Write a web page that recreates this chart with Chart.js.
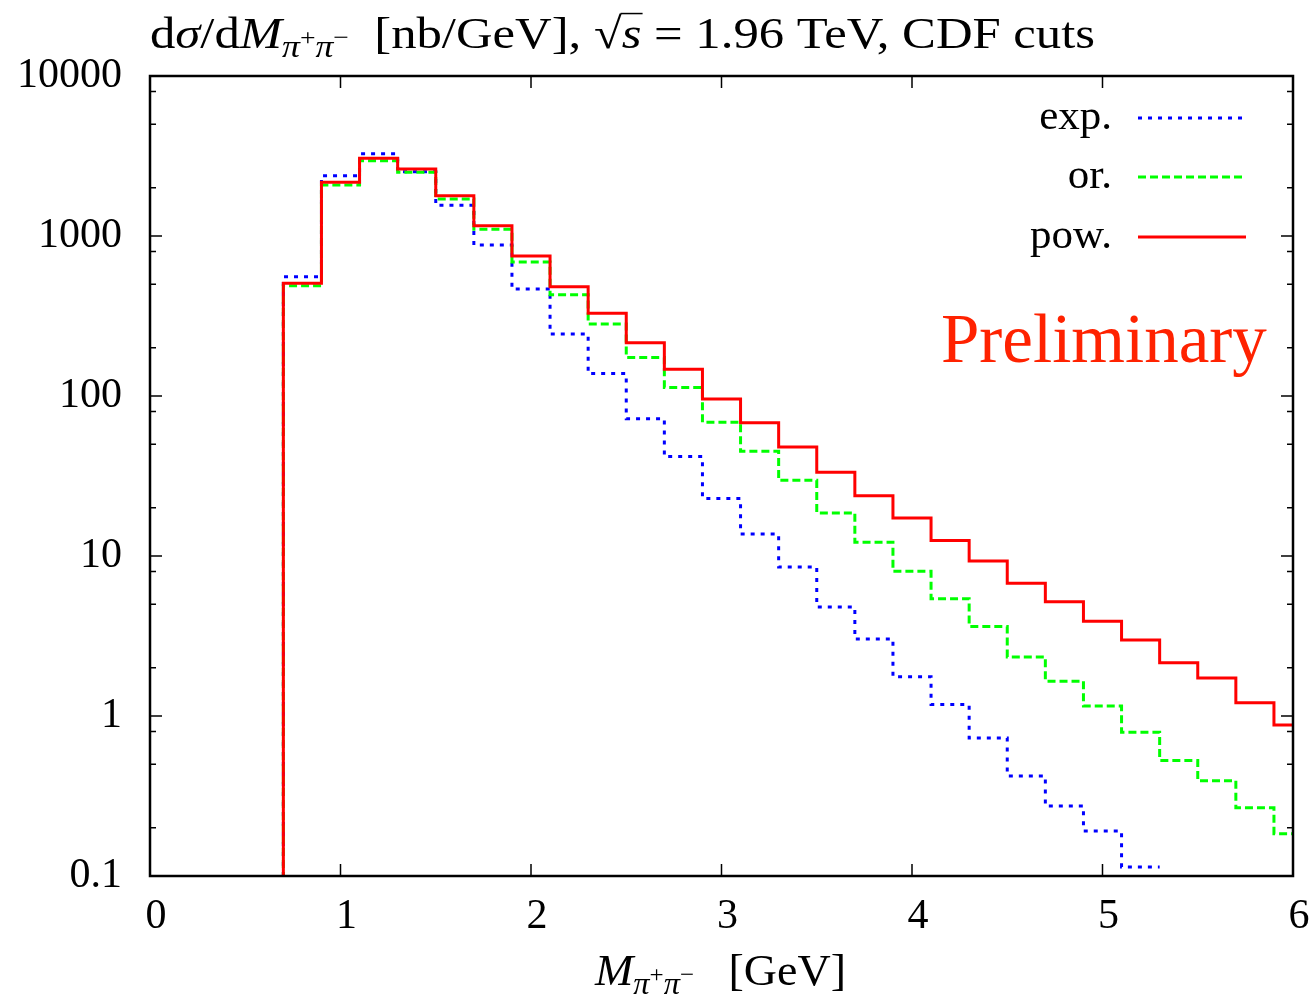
<!DOCTYPE html>
<html>
<head>
<meta charset="utf-8">
<script src="https://cdn.jsdelivr.net/npm/chart.js@4"></script>
<style>
    body { margin: 0; background: #fff; }
</style>
</head>
<body>
<canvas id="myChart" width="1313" height="996"></canvas>
<script>
// lower edges of the mass bins (GeV), every bin is 0.2 GeV wide
const binEdges = [
    0.7, 0.9, 1.1, 1.3, 1.5, 1.7, 1.9, 2.1, 2.3, 2.5, 2.7, 2.9, 3.1, 3.3,
    3.5, 3.7, 3.9, 4.1, 4.3, 4.5, 4.7, 4.9, 5.1, 5.3, 5.5, 5.7, 5.9
];
const binWidth = 0.2;

// dsigma/dM in nb/GeV
const expValues = [
    557, 2382, 3268, 2520, 1555, 879, 466, 244, 138, 72.1, 41.8, 22.9,
    13.7, 8.53, 4.80, 3.03, 1.76, 1.18, 0.729, 0.422, 0.274, 0.191, 0.114
];
const orValues = [
    489, 2083, 2956, 2500, 1703, 1101, 688, 430, 282, 174, 113, 68.5,
    45.1, 29.7, 18.6, 12.2, 8.02, 5.41, 3.63, 2.34, 1.65, 1.155, 0.791,
    0.528, 0.394, 0.267, 0.184
];
const powValues = [
    506, 2166, 3062, 2622, 1786, 1159, 750, 482, 329, 215, 147, 95.8,
    68.1, 48.0, 33.4, 23.8, 17.3, 12.5, 9.3, 6.75, 5.18, 3.91, 2.99,
    2.15, 1.73, 1.21, 0.879
];

const xTickValues = [0, 1, 2, 3, 4, 5, 6];
const yTickValues = [0.1, 1, 10, 100, 1000, 10000];
const minorMantissas = [2, 5, 8];

const serif = '"Liberation Serif", "DejaVu Serif", serif';

// histogram outline: start from below the axis, then one point per bin edge
function toSteps(values) {
    const pts = [{ x: binEdges[0], y: 0.01 }];
    values.forEach((v, i) => pts.push({ x: binEdges[i], y: v }));
    const last = values.length - 1;
    pts.push({ x: binEdges[last] + binWidth, y: values[last] });
    return pts;
}

// text with sub/superscripts: [text, italic, scale, dy, overline]
function richWidth(ctx, parts, size) {
    let w = 0;
    parts.forEach(p => {
        ctx.font = (p[1] ? 'italic ' : '') + Math.round(size * p[2]) + 'px ' + serif;
        w += ctx.measureText(p[0]).width;
    });
    return w;
}

function drawRich(ctx, x, y, parts, size) {
    let cx = x;
    parts.forEach(p => {
        ctx.font = (p[1] ? 'italic ' : '') + Math.round(size * p[2]) + 'px ' + serif;
        ctx.fillText(p[0], cx, y + p[3]);
        const w = ctx.measureText(p[0]).width;
        if (p[4]) {
            ctx.fillRect(cx - 1, y - size * 0.8, w + 2, 1.5);
        }
        cx += w;
    });
}

// draw rich text squeezed/stretched to a given width
function drawFitted(ctx, x, y, parts, size, width) {
    const w = richWidth(ctx, parts, size);
    ctx.save();
    ctx.translate(x, y);
    ctx.scale(width / w, 1);
    drawRich(ctx, 0, 0, parts, size);
    ctx.restore();
}

const titleParts = [
    ['d', 0, 1, 0], ['σ', 1, 1, 0], ['/d', 0, 1, 0], ['M', 1, 1, 0],
    ['π', 1, 0.7, 9], ['+', 0, 0.55, -3], ['π', 1, 0.7, 9], ['−', 0, 0.55, -3],
    ['  [nb/GeV], ', 0, 1, 0], ['√', 0, 1, 0], ['s', 1, 1, 0, true],
    [' = 1.96 TeV, CDF cuts', 0, 1, 0]
];
const xTitleParts = [
    ['M', 1, 1, 0], ['π', 1, 0.7, 9], ['+', 0, 0.55, -3], ['π', 1, 0.7, 9],
    ['−', 0, 0.55, -3], ['   [GeV]', 0, 1, 0]
];

const frame = {
    id: 'frame',
    afterDraw(chart) {
        const { ctx, chartArea: a } = chart;
        const x = chart.scales.x;
        const y = chart.scales.y;
        ctx.save();
        ctx.strokeStyle = '#000';
        ctx.lineWidth = 1.5;
        ctx.beginPath();
        xTickValues.forEach(v => {
            const px = x.getPixelForValue(v);
            ctx.moveTo(px, a.bottom); ctx.lineTo(px, a.bottom - 12);
            ctx.moveTo(px, a.top); ctx.lineTo(px, a.top + 12);
        });
        yTickValues.forEach((v, i) => {
            const py = y.getPixelForValue(v);
            ctx.moveTo(a.left, py); ctx.lineTo(a.left + 12, py);
            ctx.moveTo(a.right, py); ctx.lineTo(a.right - 12, py);
            if (i < yTickValues.length - 1) {
                minorMantissas.forEach(m => {
                    const pm = y.getPixelForValue(v * m);
                    ctx.moveTo(a.left, pm); ctx.lineTo(a.left + 6, pm);
                    ctx.moveTo(a.right, pm); ctx.lineTo(a.right - 6, pm);
                });
            }
        });
        ctx.stroke();
        ctx.lineWidth = 2.5;
        ctx.strokeRect(a.left, a.top, a.right - a.left, a.bottom - a.top);

        // titles
        ctx.fillStyle = '#000';
        ctx.textBaseline = 'alphabetic';
        ctx.textAlign = 'left';
        drawFitted(ctx, a.left, 48, titleParts, 44, 945);
        drawFitted(ctx, 595, 985, xTitleParts, 44, 251);

        // key
        ctx.font = '43px ' + serif;
        ctx.textAlign = 'right';
        const rows = [129, 188, 248];
        chart.data.datasets.forEach((ds, i) => {
            const ly = rows[i] - 11;
            ctx.fillText(ds.label, 1112, rows[i]);
            ctx.strokeStyle = ds.borderColor;
            ctx.lineWidth = ds.borderWidth;
            ctx.setLineDash(ds.borderDash || []);
            ctx.beginPath();
            ctx.moveTo(1138, ly); ctx.lineTo(1246, ly);
            ctx.stroke();
        });
        ctx.setLineDash([]);

        ctx.fillStyle = 'rgb(255, 34, 0)';
        ctx.textAlign = 'left';
        ctx.font = '69px ' + serif;
        ctx.fillText('Preliminary', 941, 362);
        ctx.restore();
    }
};

const ctx = document.getElementById('myChart');

new Chart(ctx, {
    type: 'line',
    data: {
        datasets: [{
            label: 'exp.',
            data: toSteps(expValues),
            borderColor: '#0000ff',
            borderWidth: 3,
            borderDash: [4, 6],
            stepped: true,
            pointRadius: 0,
            order: 3
        }, {
            label: 'or.',
            data: toSteps(orValues),
            borderColor: '#00ff00',
            borderWidth: 3,
            borderDash: [8, 4],
            stepped: true,
            pointRadius: 0,
            order: 2
        }, {
            label: 'pow.',
            data: toSteps(powValues),
            borderColor: '#ff0000',
            borderWidth: 3,
            stepped: true,
            pointRadius: 0,
            order: 1
        }]
    },
    options: {
        responsive: false,
        animation: false,
        devicePixelRatio: 1,
        layout: {
            padding: { top: 76, right: 20, left: 0, bottom: 0 }
        },
        plugins: {
            legend: { display: false },
            tooltip: { enabled: false }
        },
        scales: {
            x: {
                type: 'linear',
                min: 0,
                max: 6,
                afterBuildTicks: s => { s.ticks = xTickValues.map(v => ({ value: v })); },
                afterFit: s => {
                    s.height = 120;
                    s.paddingLeft = 0;
                    s.paddingRight = 0;
                },
                grid: { display: false, drawTicks: false },
                border: { display: false },
                ticks: {
                    color: '#000',
                    padding: 16,
                    labelOffset: 6,
                    maxRotation: 0,
                    font: { family: serif, size: 42 }
                }
            },
            y: {
                type: 'logarithmic',
                min: 0.1,
                max: 10000,
                afterBuildTicks: s => { s.ticks = yTickValues.map(v => ({ value: v })); },
                afterFit: s => {
                    s.width = 150;
                    s.paddingTop = 0;
                    s.paddingBottom = 0;
                },
                grid: { display: false, drawTicks: false },
                border: { display: false },
                ticks: {
                    color: '#000',
                    padding: 28,
                    autoSkip: false,
                    font: { family: serif, size: 42 },
                    callback: v => String(v)
                }
            }
        }
    },
    plugins: [frame]
});
</script>
</body>
</html>
